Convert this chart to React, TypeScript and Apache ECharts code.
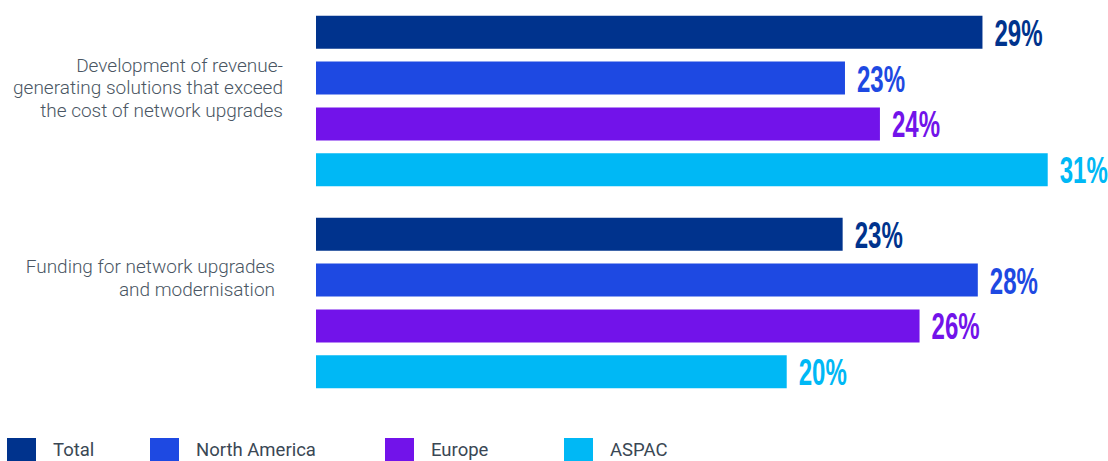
import React, { useEffect, useRef } from "react";
import * as echarts from "echarts";

const categories = [
  "Development of revenue-\ngenerating solutions that exceed\nthe cost of network upgrades",
  "Funding for network upgrades\nand modernisation",
];
const seriesNames = ["Total", "North America", "Europe", "ASPAC"];
const totalValues = [28.6, 22.6];
const northAmericaValues = [22.7, 28.4];
const europeValues = [24.2, 25.9];
const aspacValues = [31.4, 20.2];
const seriesValues = [totalValues, northAmericaValues, europeValues, aspacValues];
const colors = ["#00338D", "#1E49E2", "#7213EA", "#00B8F5"];

const legendLefts = [7, 150, 385, 564];

const BAR_WIDTH = 33;
const BAR_GAP = "39%";

export default function App() {
  const ref = useRef<HTMLDivElement>(null);
  useEffect(() => {
    if (!ref.current) return;
    const chart = echarts.init(ref.current, null, { renderer: "svg" });
    const catStyle = {
      fontFamily: "Roboto",
      fontWeight: 300,
      fontSize: 19,
      lineHeight: 22.5,
      color: "#4A5663",
      align: "right",
    };
    // label rows: [value, categoryIndex, seriesIndex]
    const labelRows: number[][] = [];
    seriesValues.forEach((vals, si) =>
      vals.forEach((v, ci) => labelRows.push([v, ci, si]))
    );
    chart.setOption({
      animation: false,
      grid: { left: 316, right: 23, top: -3, bottom: 57 },
      xAxis: {
        type: "value",
        min: 0,
        max: 33,
        show: false,
      },
      yAxis: {
        type: "category",
        inverse: true,
        data: categories,
        axisLine: { show: false },
        axisTick: { show: false },
        splitLine: { show: false },
        axisLabel: {
          margin: 33,
          ...catStyle,
          formatter: (v: string, i: number) => {
            const key = i === 0 ? "a" : "b";
            const lines = v.split("\n").map((l) => `{${key}|${l}}`);
            const extra = i === 0 ? "\n{s1|}" : "\n{s2|}";
            return lines.join("\n") + extra;
          },
          rich: {
            a: { ...catStyle },
            b: { ...catStyle, padding: [0, 8, 0, 0] },
            s1: { ...catStyle, lineHeight: 27 },
            s2: { ...catStyle, lineHeight: 50 },
          },
        },
      },
      legend: seriesNames.map((n, i) => ({
        data: [n],
        left: legendLefts[i],
        top: 438,
        padding: 0,
        itemWidth: 29,
        itemHeight: 23,
        icon: "rect",
        textStyle: {
          fontFamily: "Roboto",
          fontSize: 18.5,
          color: "#3A4754",
          padding: [0, 0, 0, 12],
        },
      })),
      series: [
        ...seriesNames.map((n, i) => ({
          name: n,
          type: "bar",
          data: seriesValues[i],
          barWidth: BAR_WIDTH,
          barGap: BAR_GAP,
          itemStyle: { color: colors[i] },
        })),
        {
          type: "custom",
          coordinateSystem: "cartesian2d",
          data: labelRows,
          encode: { x: 0, y: 1 },
          silent: true,
          clip: false,
          renderItem: (params: any, api: any) => {
            const v = api.value(0);
            const ci = api.value(1);
            const si = api.value(2);
            const pt = api.coord([v, ci]);
            const layout = api.barLayout({
              barWidth: BAR_WIDTH,
              barGap: BAR_GAP,
              count: seriesNames.length,
            });
            const y = pt[1] + layout[si].offsetCenter + 1;
            return {
              type: "text",
              x: pt[0] + 12,
              y,
              scaleX: 0.65,
              style: {
                text: Math.round(v) + "%",
                fontFamily: "'Liberation Sans', Arial, sans-serif",
                fontWeight: "bold",
                fontSize: 37,
                fill: colors[si],
                align: "left",
                verticalAlign: "middle",
              },
            };
          },
        },
      ],
    });
    return () => chart.dispose();
  }, []);
  return (
    <div
      ref={ref}
      style={{ position: "absolute", left: 0, top: 0, width: 1108, height: 461 }}
    />
  );
}
